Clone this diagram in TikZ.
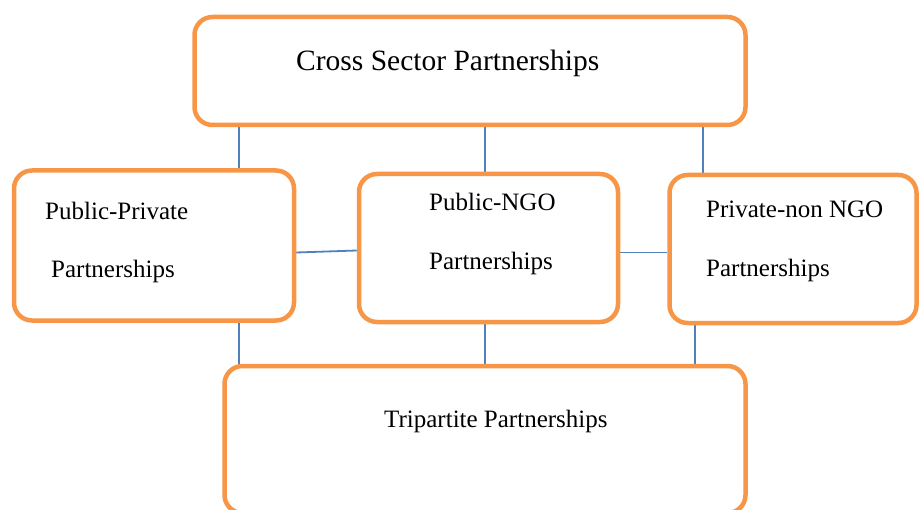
\documentclass[tikz,border=0pt]{standalone}
\usepackage{fontspec}
\setmainfont{Liberation Serif}
\usetikzlibrary{backgrounds}
\definecolor{boxorange}{HTML}{F79646}
\definecolor{linkblue}{HTML}{4F81BD}
\begin{document}
\begin{tikzpicture}[x=1pt,y=-1pt,
  box/.style={draw=boxorange, line width=4.5pt, rounded corners=18pt, fill=white,
    rectangle, inner sep=0pt},
  link/.style={draw=linkblue, line width=1.8pt},
  lbl/.style={anchor=base west, inner sep=0pt, font=\fontsize{25}{30}\selectfont},
  biglbl/.style={anchor=base west, inner sep=0pt, font=\fontsize{29.5}{35}\selectfont}]
\useasboundingbox (0,0) rectangle (920,510);
\clip (0,0) rectangle (920,510);

% boxes
\node[box, minimum width=551pt, minimum height=108pt] (cs) at (470,71) {};
\node[box, minimum width=280pt, minimum height=150pt] (pp) at (154,245.5) {};
\node[box, minimum width=259pt, minimum height=148pt] (pn) at (488.5,248) {};
\node[box, minimum width=247pt, minimum height=148pt] (pr) at (793,249) {};
\node[box, minimum width=521pt, minimum height=147pt] (tp) at (485,439.5) {};

% texts
\node[biglbl] (t1) at (296,71) {Cross Sector Partnerships};
\node[lbl] (t2) at (45,220) {Public-Private};
\node[lbl] (t3) at (51,278) {Partnerships};
\node[lbl] (t4) at (429,211) {Public-NGO};
\node[lbl] (t5) at (429,270) {Partnerships};
\node[lbl] (t6) at (706,218) {Private-non NGO};
\node[lbl] (t7) at (706,277) {Partnerships};
\node[lbl] (t8) at (384,427) {Tripartite Partnerships};

% connector guide coordinates
\coordinate (xa) at (239,0);
\coordinate (xb) at (485,0);
\coordinate (xc) at (703,0);
\coordinate (xd) at (695,0);
\coordinate (ya) at (0,252.5);
\coordinate (yb) at (0,250.5);
\coordinate (yc) at (0,252.5);

\begin{scope}[on background layer]
\draw[link] (cs.south -| xa) -- (pp.north -| xa);
\draw[link] (cs.south -| xb) -- (pn.north -| xb);
\draw[link] (cs.south -| xc) -- (pr.north -| xc);
\draw[link] (pp.east |- ya) -- (pn.west |- yb);
\draw[link] (pn.east |- yc) -- (pr.west |- yc);
\draw[link] (pp.south -| xa) -- (tp.north -| xa);
\draw[link] (pn.south -| xb) -- (tp.north -| xb);
\draw[link] (pr.south -| xd) -- (tp.north -| xd);
\end{scope}
\end{tikzpicture}
\end{document}
